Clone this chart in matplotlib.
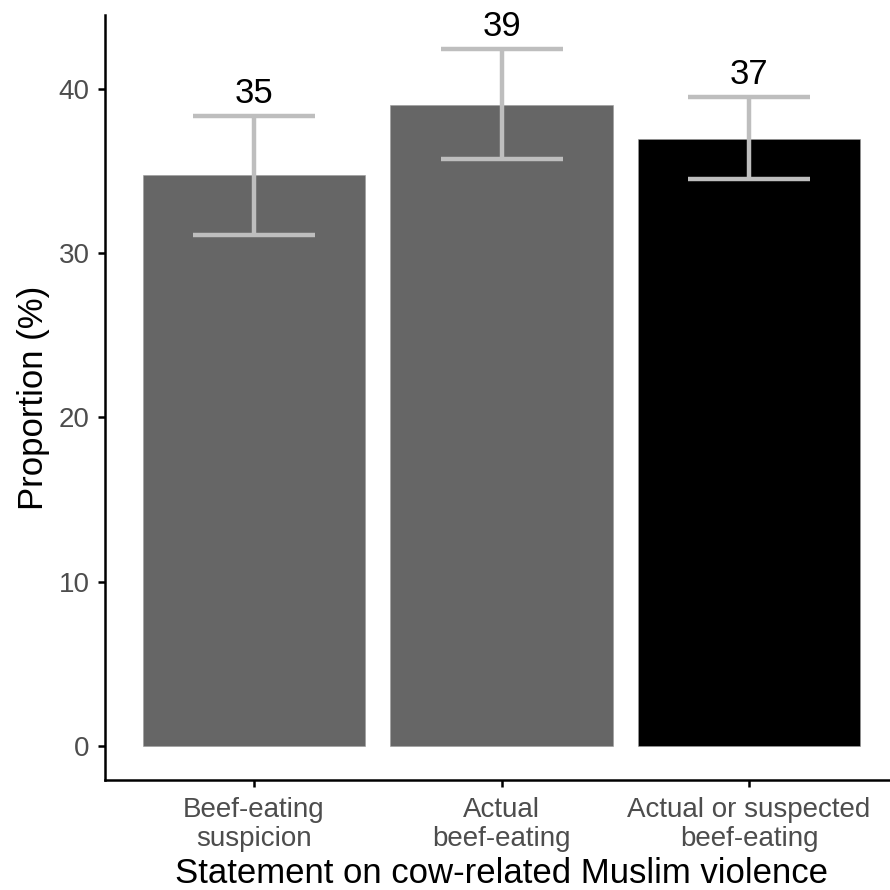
import numpy as np
import matplotlib.pyplot as plt

plt.rcParams['font.family'] = ['Liberation Sans', 'DejaVu Sans']

categories = ['Beef-eating\nsuspicion', 'Actual\nbeef-eating', 'Actual or suspected\nbeef-eating']
means = [34.76, 39.03, 36.96]
lower = [31.11, 35.74, 34.52]
upper = [38.36, 42.44, 39.51]
bar_labels = ['35', '39', '37']
bar_colors = ['#666666', '#666666', '#000000']

fig = plt.figure(figsize=(8.9, 8.9), dpi=100)
ax = fig.add_axes([0.1185, 0.1236, 0.89, 0.8596])

x = np.arange(1, len(categories) + 1)
ax.bar(x, means, width=0.9, color=bar_colors, edgecolor='#9a9a9a', linewidth=0.4, zorder=1)
yerr = [np.array(means) - np.array(lower), np.array(upper) - np.array(means)]
ax.errorbar(x, means, yerr=yerr, fmt='none', ecolor='#bebebe', elinewidth=3.2,
            capsize=44, capthick=3.2, zorder=2)
for xi, up, lab in zip(x, upper, bar_labels):
    ax.text(xi, up + 0.8, lab, ha='center', va='baseline', fontsize=25, color='black')

ax.set_xlim(0.4, 3.6)
ax.set_ylim(-2.07, 44.5)
ax.set_yticks([0, 10, 20, 30, 40])
ax.set_xticks(x)
ax.set_xticklabels(categories)

for side in ['top', 'right']:
    ax.spines[side].set_visible(False)
for side in ['left', 'bottom']:
    ax.spines[side].set_linewidth(1.8)
    ax.spines[side].set_color('black')
ax.tick_params(axis='both', length=5, width=1.8, color='black', labelcolor='#4d4d4d',
               labelsize=20)
ax.tick_params(axis='y', pad=6.5)
ax.tick_params(axis='x', pad=7)
ax.set_ylabel('Proportion (%)', fontsize=25, labelpad=6)
ax.set_xlabel('Statement on cow-related Muslim violence', fontsize=25, labelpad=3.5)
for t in ax.get_xticklabels():
    t.set_linespacing(1.15)

fig.savefig('out.png', dpi=100)
